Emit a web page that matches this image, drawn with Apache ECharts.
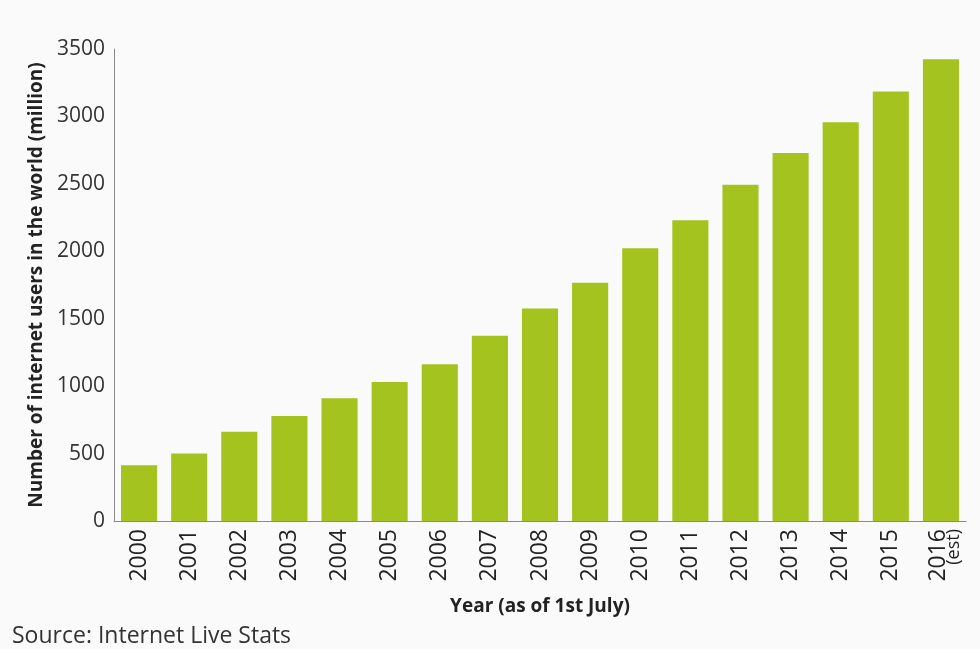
<!DOCTYPE html>
<html>
<head>
<meta charset="utf-8">
<script src="https://cdn.jsdelivr.net/npm/echarts@6/dist/echarts.min.js"></script>
<style>
html,body{margin:0;padding:0;background:#fafafa;}
#chart{width:980px;height:649px;}
</style>
</head>
<body>
<div id="chart"></div>
<script>
var years = ['2000','2001','2002','2003','2004','2005','2006','2007','2008','2009','2010','2011','2012','2013','2014','2015','2016'];
var users = [413, 500, 662, 778, 910, 1030, 1162, 1373, 1575, 1766, 2023, 2231, 2494, 2728, 2956, 3185, 3424];
var yTicks = [0, 500, 1000, 1500, 2000, 2500, 3000, 3500];

var chart = echarts.init(document.getElementById('chart'));
var font = '"Open Sans", "Noto Sans", sans-serif';
chart.setOption({
  backgroundColor: '#fafafa',
  animation: false,
  grid: {left: 114, right: 14, top: 49, bottom: 128, containLabel: false},
  xAxis: {
    type: 'category',
    data: years,
    name: 'Year (as of 1st July)',
    nameLocation: 'middle',
    nameGap: 76,
    nameTextStyle: {fontFamily: font, fontWeight: 'bold', fontSize: 19, color: '#222'},
    axisLine: {lineStyle: {color: '#8a8a8a', width: 1}},
    axisTick: {show: false},
    axisLabel: {
      rotate: 90, margin: 8, fontFamily: font, fontSize: 23, color: '#222', lineHeight: 26,
      formatter: function (v, i) { return i === years.length - 1 ? v + '\n{e|(est)}' : v; },
      rich: {e: {fontFamily: font, fontSize: 18, color: '#222', lineHeight: 4}}
    }
  },
  yAxis: {
    type: 'value',
    min: yTicks[0], max: yTicks[yTicks.length - 1], interval: 500,
    name: 'Number of internet users in the world (million)',
    nameLocation: 'middle',
    nameGap: 68,
    nameTextStyle: {fontFamily: font, fontWeight: 'bold', fontSize: 19, color: '#222'},
    axisLine: {show: true, lineStyle: {color: '#8a8a8a', width: 1}},
    axisTick: {show: false},
    splitLine: {show: false},
    axisLabel: {margin: 9, fontFamily: font, fontSize: 21, color: '#333', formatter: function (v) { return String(v); }}
  },
  series: [{
    type: 'bar',
    data: users,
    barWidth: '72%',
    itemStyle: {color: '#a4c31f'}
  }],
  graphic: [{
    type: 'text', left: 12, top: 625,
    style: {text: 'Source: Internet Live Stats', fontFamily: font, fontSize: 23, fill: '#333'}
  }]
});
</script>
</body>
</html>
